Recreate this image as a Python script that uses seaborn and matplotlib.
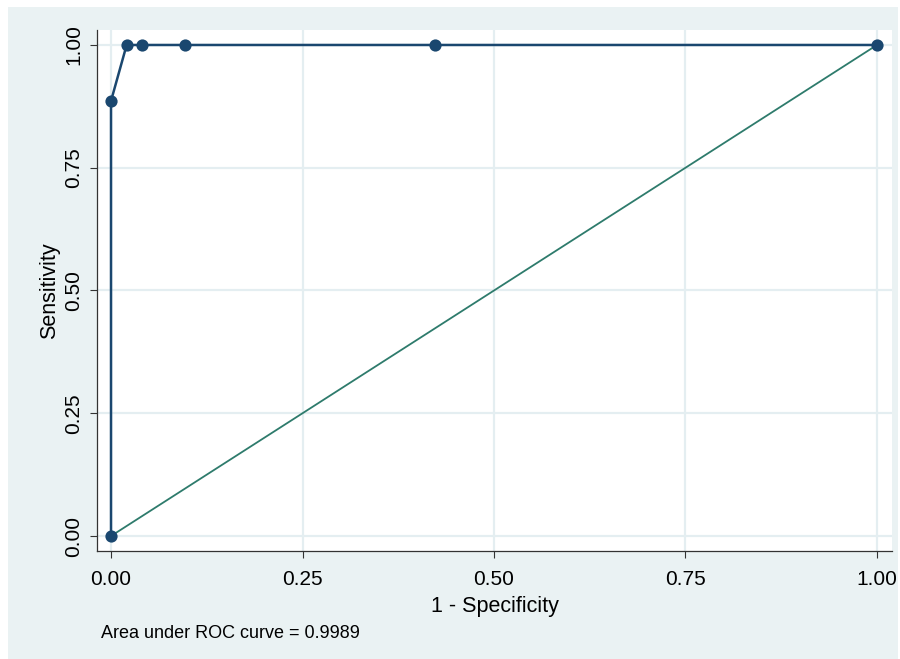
import matplotlib
matplotlib.use("Agg")
import matplotlib.pyplot as plt
import seaborn as sns
import pandas as pd
from matplotlib.patches import Rectangle

# ROC coordinates (1 - specificity, sensitivity)
one_minus_spec = [0.0, 0.0, 0.0204, 0.0408, 0.0969, 0.4235, 1.0]
sensitivity = [0.0, 0.886, 1.0, 1.0, 1.0, 1.0, 1.0]
ref_x = [0.0, 1.0]
ref_y = [0.0, 1.0]
ticks = [0.0, 0.25, 0.5, 0.75, 1.0]
tick_labels = ["0.00", "0.25", "0.50", "0.75", "1.00"]
auc_text = "Area under ROC curve = 0.9989"

BG = "#EAF2F3"
GRID = "#E4EEF1"
NAVY = "#1A476F"
GREEN = "#2E7B6C"

sns.set_theme(style="white")
plt.rcParams["font.family"] = ["Liberation Sans", "DejaVu Sans"]

W, H = 900, 659
fig = plt.figure(figsize=(W / 100, H / 100), dpi=100)
fig.patch.set_facecolor("white")
fig.add_artist(Rectangle((8 / W, 0), (898 - 8) / W, (H - 7) / H,
                         transform=fig.transFigure, facecolor=BG,
                         edgecolor="none", zorder=-10))

ax = fig.add_axes([97 / W, (H - 551) / H, (892 - 97) / W, (551 - 30) / H])
ax.set_facecolor("white")

roc = pd.DataFrame({"x": one_minus_spec, "y": sensitivity})
ref = pd.DataFrame({"x": ref_x, "y": ref_y})

sns.lineplot(data=ref, x="x", y="y", ax=ax, color=GREEN, linewidth=1.3,
             estimator=None, sort=False, zorder=3)
sns.lineplot(data=roc, x="x", y="y", ax=ax, color=NAVY, linewidth=1.8,
             estimator=None, sort=False, marker="o", markersize=8.8,
             markeredgewidth=0, zorder=4)

ax.set_xlim(-0.0183, 1.0196)
ax.set_ylim(-0.0305, 1.0305)
ax.set_xticks(ticks)
ax.set_xticklabels(tick_labels)
ax.set_yticks(ticks)
ax.set_yticklabels(tick_labels, rotation=90, va="center")

ax.grid(True, color=GRID, linewidth=1.6)
ax.set_axisbelow(True)
for side in ["top", "right"]:
    ax.spines[side].set_visible(False)
for side in ["left", "bottom"]:
    ax.spines[side].set_color("#333333")
    ax.spines[side].set_linewidth(0.9)

ax.tick_params(axis="both", which="major", direction="out", length=5,
               width=0.8, color="#333333", labelsize=15, labelcolor="black",
               bottom=True, left=True)
ax.tick_params(axis="x", pad=9)
ax.tick_params(axis="y", pad=5)

ax.set_xlabel("1 - Specificity", fontsize=15.5, color="black", labelpad=5)
ax.set_ylabel("Sensitivity", fontsize=15.5, color="black", labelpad=3)

fig.text(101 / W, 1 - 633 / H, auc_text, fontsize=13, color="black",
         ha="left", va="center")

fig.savefig("out.png", dpi=100, facecolor="white")
